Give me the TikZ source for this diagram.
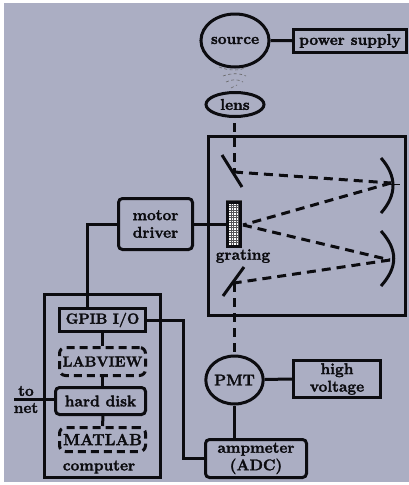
\documentclass[tikz,border=0pt]{standalone}
\usepackage{fontspec}
\setmainfont{Latin Modern Roman}[BoldFeatures={FakeBold=2}]
\usepackage{tikz}
\usetikzlibrary{shapes.geometric}
\definecolor{bgc}{HTML}{ABAEC3}
\definecolor{ink}{HTML}{0C0C10}
\newcommand{\fsz}[1]{\fontsize{#1}{#1}\selectfont}
\tikzset{
 lnk/.style={line width=3pt,draw=ink},
 beam/.style={line width=3pt,draw=ink,dash pattern=on 9pt off 6pt},
 shp/.style={draw=ink,line width=3pt,inner sep=0pt,align=center,font=\bfseries\fontsize{15.5}{17.5}\selectfont,text=ink},
 sbox/.style={shp,rectangle},
 rbox/.style={shp,rectangle,rounded corners=4pt},
 dbox/.style={shp,rectangle,rounded corners=6pt,dash pattern=on 8pt off 5pt},
 oval/.style={shp,ellipse},
 lbl/.style={inner sep=0pt,align=center,font=\bfseries\fontsize{15.5}{17.5}\selectfont,text=ink},
 glow/.style={draw=gray!80!black,line width=0.6pt,dash pattern=on 3pt off 2.5pt},
}
\begin{document}
\begin{tikzpicture}[x=1pt,y=-1pt]
\useasboundingbox (0,0) rectangle (409,485);
\fill[white] (0,0) rectangle (409,485);
\fill[bgc] (4,3) rectangle (409,482);
% large frames
\node[sbox,minimum width=197pt,minimum height=179pt] (mono) at (307,226) {};
\node[sbox,minimum width=116pt,minimum height=183pt] (computer) at (102.5,386) {};
% nodes
\node[oval,minimum width=58pt,minimum height=53pt] (source) at (235,40.5) {source};
\node[sbox,minimum width=113pt,minimum height=23pt] (ps) at (350,41) {power supply};
\node[oval,minimum width=58pt,minimum height=24pt] (lens) at (235,104.5) {lens};
\node[rbox,minimum width=74pt,minimum height=51pt] (motor) at (155.5,224) {motor\\driver};
\node[sbox,minimum width=13pt,minimum height=44pt] (grating) at (234,224) {};
\node[lbl] (gratinglabel) at (243,256) {grating};
\node[sbox,minimum width=86pt,minimum height=23pt,font=\bfseries\fsz{14.5}] (gpib) at (102.5,320) {GPIB I/O};
\node[dbox,minimum width=86pt,minimum height=28pt,font=\bfseries\fsz{14.5}] (labview) at (102.5,361.5) {LABVIEW};
\node[rbox,minimum width=90pt,minimum height=27pt] (disk) at (100.5,401) {hard disk};
\node[dbox,minimum width=86pt,minimum height=24pt,font=\bfseries\fsz{16}] (matlab) at (102.5,439.5) {MATLAB};
\node[lbl] (computerlabel) at (99,467) {computer};
\node[oval,minimum width=53pt,minimum height=48pt] (pmt) at (234.5,380) {PMT};
\node[sbox,minimum width=87pt,minimum height=37pt] (hv) at (337,379) {high\\voltage};
\node[rbox,minimum width=101pt,minimum height=38pt] (amp) at (256,458.5) {ampmeter\\(ADC)};
\node[lbl] (tolabel) at (26,391) {to};
\node[lbl] (netlabel) at (26,408) {net};
% grating mesh
\begin{scope}
\clip (grating.south west) rectangle (grating.north east);
\fill[white] (grating.south west) rectangle (grating.north east);
\foreach \k in {0,2.5,...,17} \draw[ink!70,line width=0.35pt] (226+\k,200) -- (226+\k,248);
\foreach \k in {0,2.5,...,48} \draw[ink!70,line width=0.35pt] (226,200+\k) -- (242,200+\k);
\end{scope}
\node[sbox,minimum width=13pt,minimum height=44pt] at (grating) {};
% optics anchors
\coordinate (m1) at (234,172);
\coordinate (c1) at (391,183);
\coordinate (g) at (243,225);
\coordinate (c2) at (390,260);
\coordinate (m2) at (234,283);
% connectors
\draw[lnk] (source) -- (ps);
\draw[lnk] (pmt) -- (hv.west);
\draw[lnk] (motor.east) -- (grating.west);
\draw[lnk] (motor.west) -| (gpib.north -| 87,0);
\draw[lnk] (gpib.east) -- (183,320) |- (amp.west);
\draw[lnk] (pmt.south) -- (pmt.south |- amp.north);
\draw[lnk] (14,399) -- (disk.west |- 0,399);
\draw[lnk] (gpib.south) -- (gpib.south |- labview.north);
\draw[lnk] (labview.south) -- (labview.south |- disk.north);
\draw[lnk] (disk.south -| 103,0) -- (labview.south |- matlab.north);
% beams
\draw[beam] (lens.south -| m1) ++(0,5) -- (m1);
\draw[beam] (m1) -- (c1);
\draw[beam] (c1) -- (g);
\draw[beam] (g) -- (c2);
\draw[beam] (c2) -- (m2);
\draw[beam] (m2) -- (pmt.north -| m2);
\draw[ink,line width=0.6pt] (383,184) -- (400,184);
% mirrors
\draw[lnk] (222,155) -- (242,187);
\draw[lnk] (244,267) -- (223,296);
\draw[lnk] (381,158) .. controls (397,176) and (397,195) .. (381,213);
\draw[lnk] (381,231) .. controls (398,250) and (398,267) .. (381,286);
% light cone
\draw[glow] (219,67) .. controls (229,71) and (241,71) .. (246,67);
\draw[glow] (223,76) .. controls (231,73) and (240,73) .. (246,76);
\draw[glow] (226,82) .. controls (232,79) and (238,79) .. (243,82);
\draw[glow] (231,88) -- (237,85);
\end{tikzpicture}
\end{document}
